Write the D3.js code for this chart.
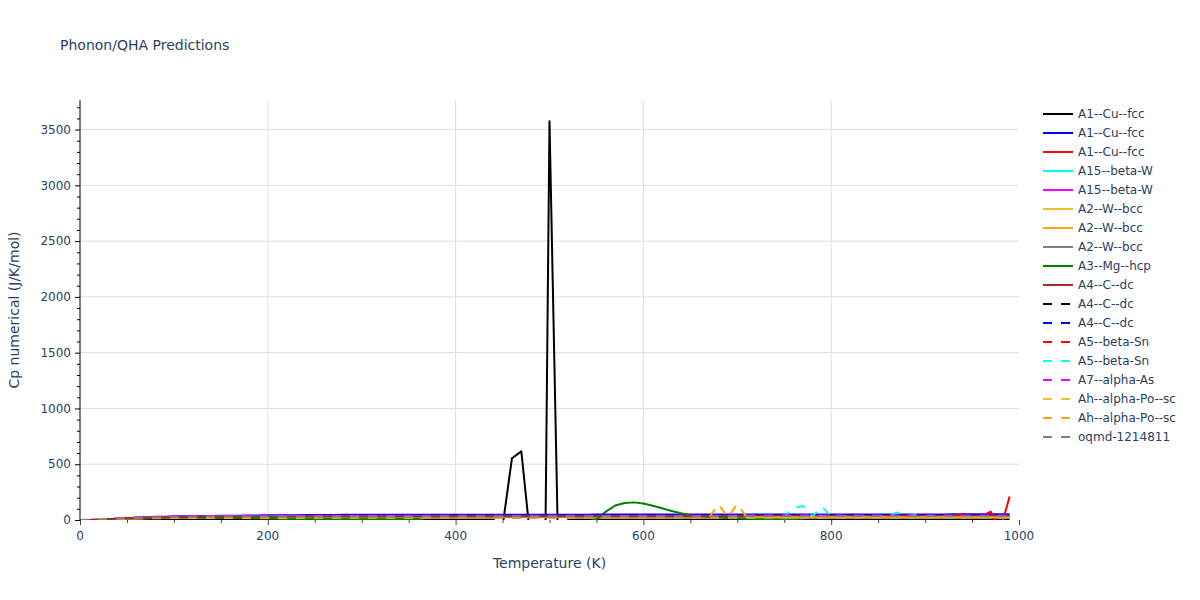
<!DOCTYPE html>
<html><head><meta charset="utf-8">
<script src="https://cdn.jsdelivr.net/npm/d3@7"></script>
<style>body{margin:0;background:#fff}svg{display:block}text{font-family:"DejaVu Sans",Verdana,sans-serif;fill:#2a3f5f}</style>
</head><body><svg id="c" width="1200" height="600"></svg>
<script>
const temps=[0,10,20,30,40,50,60,70,80,90,100,110,120,130,140,150,160,170,180,190,200,210,220,230,240,250,260,270,280,290,300,310,320,330,340,350,360,370,380,390,400,410,420,430,440,450,460,470,480,490,500,510,520,530,540,550,560,570,580,590,600,610,620,630,640,650,660,670,680,690,700,710,720,730,740,750,760,770,780,790,800,810,820,830,840,850,860,870,880,890,900,910,920,930,940,950,960,970,980,990];
const names=["A1--Cu--fcc","A1--Cu--fcc","A1--Cu--fcc","A15--beta-W","A15--beta-W","A2--W--bcc","A2--W--bcc","A2--W--bcc","A3--Mg--hcp","A4--C--dc","A4--C--dc","A4--C--dc","A5--beta-Sn","A5--beta-Sn","A7--alpha-As","Ah--alpha-Po--sc","Ah--alpha-Po--sc","oqmd-1214811"];
const colors=["#000000","#0000ff","#ff0000","#00ffff","#ff00ff","#f0c030","#ffa500","#808080","#008000","#a52a2a","#000000","#0000ff","#ff0000","#00ffff","#ff00ff","#f0c030","#ffa500","#808080"];
const dashed=[false,false,false,false,false,false,false,false,false,false,true,true,true,true,true,true,true,true];
const s0=[0,1,2,3,4,4,5,5,5,5, 5,5,5,5,5,5,5,5,5,5, 5,5,5,5,5,5,5,5,5,5, 5,5,5,5,5,5,5,5,5,5, 5,5,5,5,5,-60,553,615,-200,-5000, 3575,-600,5,5,5,5,5,5,5,5, 5,5,5,5,5,5,5,5,5,5, 5,5,5,5,5,5,5,5,5,5, 5,5,5,5,5,5,5,5,5,5, 5,5,5,5,5,5,5,5,5,5];
const s1=[0,1,3,7,12,17,21,25,28,30, 32,33,34,35,36,37,38,39,40,41, 42,42,43,43,44,44,45,45,46,46, 46,46,47,47,47,47,47,47,47,47, 48,48,48,48,48,48,48,48,48,48, 48,48,48,48,48,49,49,49,49,49, 49,49,49,49,49,49,49,49,49,49, 49,49,49,50,50,50,50,50,50,50, 50,50,50,50,50,50,50,50,50,50, 50,50,50,51,51,51,51,51,51,51];
const s2=[0,1,3,6,10,14,18,21,23,25, 26,27,28,28,29,29,30,30,30,30, 31,31,31,31,31,31,31,32,32,32, 32,32,32,32,32,32,32,32,32,32, 32,32,32,32,33,33,33,33,33,33, 33,33,33,33,33,33,33,33,33,33, 33,33,33,33,33,33,33,33,33,33, 33,33,33,33,33,33,33,33,33,33, 33,33,33,33,33,34,34,34,34,34, 34,34,34,35,55,35,35,75,-90,210];
const s3=[0,1,3,7,11,15,19,22,24,26, 27,28,29,30,30,31,31,32,32,32, 32,33,33,33,33,33,33,34,34,34, 34,34,34,34,34,34,34,34,34,34, 34,34,35,35,35,35,35,35,35,35, 35,35,35,35,35,35,35,35,35,35, 35,35,35,35,35,35,35,35,36,36, 36,36,36,36,36,36,36,36,36,36, 36,36,36,36,36,36,36,36,36,36, 36,36,36,36,36,36,36,36,36,36];
const s4=[0,1,4,8,12,16,19,21,23,24, 25,26,26,27,27,27,28,28,28,28, 28,28,29,29,29,29,29,29,29,29, 29,29,29,29,29,29,29,29,29,29, 30,30,30,30,30,30,30,30,30,30, 30,30,30,30,30,30,30,30,30,30, 30,30,30,30,30,30,30,30,30,30, 30,30,30,30,30,30,30,30,30,30, 31,31,31,31,31,31,31,31,31,31, 31,31,31,31,31,31,31,31,31,31];
const s5=[0,0,2,5,8,11,14,16,18,19, 20,21,21,22,22,23,23,23,23,24, 24,24,24,24,24,24,24,24,24,24, 24,24,25,25,25,25,25,25,25,25, 25,25,25,25,25,25,25,25,25,25, 25,25,25,25,25,25,25,25,25,25, 25,25,25,25,25,25,25,25,25,25, 26,26,26,26,26,26,26,26,26,26, 26,26,26,26,26,26,26,26,26,26, 26,26,26,26,26,26,26,26,26,26];
const s6=[0,1,2,5,9,12,15,17,19,20, 21,22,23,23,24,24,24,25,25,25, 25,25,26,26,26,26,26,26,26,26, 26,26,26,26,26,26,27,27,27,27, 27,27,27,27,27,27,27,27,27,27, 27,27,27,27,27,27,27,27,27,27, 27,27,27,27,27,27,27,27,27,27, 27,27,27,27,27,27,27,27,27,27, 28,28,28,28,28,28,28,28,28,28, 28,28,28,28,28,28,28,28,28,28];
const s7=[0,1,3,6,10,14,17,19,21,23, 24,25,26,26,27,27,27,28,28,28, 28,28,29,29,29,29,29,29,29,29, 29,29,29,29,29,30,30,30,30,30, 30,30,30,30,30,30,30,30,30,30, 30,30,30,30,30,30,30,30,30,30, 30,30,30,30,30,30,30,30,30,30, 30,30,30,30,30,30,30,30,30,30, 31,31,31,31,31,31,31,31,31,31, 31,31,31,31,31,31,31,31,31,31];
const s8=[0,1,3,7,11,15,18,20,22,23, 23,23,22,21,20,19,18,17,16,15, 13,12,10,9,8,8,7,7,7,7, 7,7,7,7,7,6,6,-15,-20,-20, -20,-20,-20,-20,-20,-20,-20,-20,-20,-20, -20,-20,-20,-20,-20,6,75,130,152,158, 148,128,105,80,60,45,37,30,24,18, 14,11,9,7,5,3,1,-5,-10,-10, -10,-10,-10,-10,-10,-10,-10,-10,-10,-10, -10,-10,-10,-10,-10,-10,-10,-10,-10,-10];
const s9=[0,1,3,7,11,15,18,21,23,25, 26,27,28,29,29,30,30,31,31,31, 32,32,32,32,33,33,33,33,33,33, 34,34,34,34,34,34,34,34,34,34, 35,35,35,35,35,35,35,35,35,35, 35,35,35,35,35,35,35,35,35,35, 35,35,35,35,35,36,36,36,36,36, 36,36,36,36,36,36,36,36,36,36, 36,36,36,36,36,36,36,36,36,36, 36,36,36,36,36,36,36,36,36,36];
const s10=[0,0,1,3,6,9,11,13,15,16, 17,18,19,19,20,20,20,21,21,21, 21,21,21,21,22,22,22,22,22,22, 22,22,22,22,22,22,22,22,22,22, 22,22,22,22,22,22,22,22,22,22, 22,22,22,22,22,23,23,23,23,23, 23,23,23,23,23,23,23,23,23,23, 23,23,23,23,23,23,23,23,23,23, 23,23,23,23,23,23,23,23,23,23, 23,23,23,23,23,23,23,23,23,23];
const s11=[0,1,3,6,10,14,18,21,24,26, 28,29,30,31,32,33,34,35,36,37, 38,38,39,39,40,40,41,41,41,42, 42,42,42,42,42,42,43,43,43,43, 43,43,43,43,43,43,43,43,44,44, 44,44,44,44,44,44,44,44,44,44, 44,44,44,44,44,44,44,44,44,44, 44,44,44,44,45,45,45,45,45,45, 45,45,45,45,45,45,45,45,45,45, 45,45,45,45,45,45,45,45,45,45];
const s12=[0,1,4,8,12,16,19,22,24,26, 27,28,29,29,30,30,30,31,31,31, 31,31,32,32,32,32,32,32,32,32, 32,33,33,33,33,33,33,33,33,33, 33,33,33,33,33,33,33,33,33,33, 33,33,33,33,33,33,33,33,33,33, 34,34,34,34,34,34,34,34,34,34, 34,34,34,34,34,34,34,34,34,34, 34,34,34,34,34,34,34,34,34,34, 34,34,34,34,34,34,34,34,34,34];
const s13=[0,1,4,8,12,16,19,22,24,25, 26,27,28,28,29,29,29,30,30,30, 30,30,30,31,31,31,31,31,31,31, 31,31,31,31,31,31,31,31,31,31, 31,31,32,32,32,32,32,32,32,32, 32,32,32,32,32,32,32,32,32,32, 32,32,32,32,32,32,32,32,32,32, 32,32,32,32,32,32,110,125,32,120, 32,32,32,32,32,33,33,68,33,52, 33,33,33,33,33,33,33,33,33,33];
const s14=[0,2,6,11,16,21,25,28,30,32, 33,34,35,35,36,36,36,37,37,37, 37,37,37,38,38,38,38,38,38,38, 38,38,38,38,38,39,39,39,39,39, 39,39,39,39,39,39,39,39,39,39, 39,39,39,39,39,39,39,39,39,39, 39,39,39,39,39,39,39,39,39,39, 40,40,40,40,40,40,40,40,40,40, 40,40,40,40,40,40,40,40,40,40, 40,40,40,40,40,40,40,40,40,40];
const s15=[0,1,4,7,10,12,14,15,16,17, 17,18,18,18,19,19,19,19,19,19, 19,19,19,19,20,20,20,20,20,20, 20,20,20,20,20,20,20,20,20,20, 20,20,20,20,20,20,20,20,20,20, 20,20,20,20,20,20,20,20,20,20, 21,21,21,21,21,21,21,21,21,21, 21,21,21,21,21,21,21,21,21,21, 21,21,21,21,21,21,21,21,21,21, 21,21,21,21,21,21,21,21,21,21];
const s16=[0,1,4,7,10,13,15,17,18,19, 20,20,21,21,21,22,22,22,22,22, 22,22,22,23,23,23,23,23,23,23, 23,23,23,23,23,23,23,23,23,23, 23,23,24,24,24,24,24,24,24,24, 24,24,24,24,24,24,24,24,24,24, 24,24,24,24,24,24,24,24,140,24, 145,24,24,24,24,24,24,24,24,24, 24,24,24,24,24,24,24,24,24,24, 24,24,24,24,24,24,24,24,24,24];
const s17=[0,1,4,8,12,16,19,22,24,25, 26,27,28,28,29,29,29,30,30,30, 30,30,30,31,31,31,31,31,31,31, 31,31,31,31,31,31,32,32,32,32, 32,32,32,32,32,32,32,32,32,32, 32,32,32,32,32,32,32,32,32,32, 32,32,32,32,32,32,32,32,32,32, 33,33,33,33,33,33,33,33,33,33, 33,33,33,33,33,33,33,33,33,33, 33,33,33,33,33,33,33,33,33,33];
const seriesValues=[s0,s1,s2,s3,s4,s5,s6,s7,s8,s9,s10,s11,s12,s13,s14,s15,s16,s17];
const xTicks=[0,200,400,600,800,1000];
const yTicks=[0,500,1000,1500,2000,2500,3000,3500];

const svg=d3.select("#c");
const L=80,R=1019,T=100,B=520;
const x=d3.scaleLinear().domain([0,1000]).range([L,R]);
const y=d3.scaleLinear().domain([0,3765]).range([B,T]);

svg.append("defs").append("clipPath").attr("id","pc").append("rect")
  .attr("x",L).attr("y",T).attr("width",R-L).attr("height",B-T);

const g=svg.append("g");
g.selectAll(".gx").data(xTicks.filter(d=>d>0&&d<1000)).enter().append("line")
  .attr("x1",d=>x(d)).attr("x2",d=>x(d)).attr("y1",T).attr("y2",B)
  .attr("stroke","#dedede").attr("stroke-width",1);
g.selectAll(".gy").data(yTicks.filter(d=>d>0)).enter().append("line")
  .attr("y1",d=>y(d)).attr("y2",d=>y(d)).attr("x1",L).attr("x2",R)
  .attr("stroke","#dedede").attr("stroke-width",1);

const line=d3.line().x((d,i)=>x(temps[i])).y(d=>y(d));
const tr=svg.append("g").attr("clip-path","url(#pc)");
seriesValues.forEach((vals,k)=>{
  tr.append("path").attr("d",line(vals)).attr("fill","none")
    .attr("stroke",colors[k]).attr("stroke-width",2)
    .attr("stroke-linejoin","round")
    .attr("stroke-dasharray",dashed[k]?"9,9":null);
});

const xa=d3.axisBottom(x).tickValues(d3.range(0,1001,50)).tickSize(3).tickFormat("");
const xg=svg.append("g").attr("transform",`translate(0,${B})`).call(xa);
xg.select(".domain").remove();
xg.selectAll(".tick line").attr("stroke","#444").attr("y2",d=>d%200===0?5:3);
svg.selectAll(".xl").data(xTicks).enter().append("text")
  .attr("x",d=>x(d)).attr("y",540).attr("text-anchor","middle").attr("font-size",12).text(d=>d);

const ya=d3.axisLeft(y).tickValues(d3.range(0,3765,100)).tickSize(3).tickFormat("");
const yg=svg.append("g").attr("transform",`translate(${L},0)`).call(ya);
yg.select(".domain").attr("d",`M0,${T}V${B}`).attr("stroke","#000");
yg.selectAll(".tick line").attr("stroke","#000").attr("x2",d=>d%500===0?-5:-3);
svg.selectAll(".yl").data(yTicks).enter().append("text")
  .attr("x",71).attr("y",d=>y(d)).attr("dy","0.35em").attr("text-anchor","end").attr("font-size",12).text(d=>d);

svg.append("text").attr("x",60).attr("y",50).attr("font-size",14).text("Phonon/QHA Predictions");
svg.append("text").attr("x",(L+R)/2).attr("y",568).attr("text-anchor","middle").attr("font-size",14).text("Temperature (K)");
svg.append("text").attr("transform",`translate(19,${(T+B)/2}) rotate(-90)`).attr("text-anchor","middle").attr("font-size",14).text("Cp numerical (J/K/mol)");

const lg=svg.append("g");
names.forEach((n,k)=>{
  const yy=114+19*k;
  lg.append("line").attr("x1",1043).attr("x2",1073).attr("y1",yy).attr("y2",yy)
    .attr("stroke",colors[k]).attr("stroke-width",2).attr("stroke-dasharray",dashed[k]?"9,9":null);
  lg.append("text").attr("x",1078).attr("y",yy).attr("dy","0.35em").attr("font-size",12).text(n);
});
</script></body></html>
